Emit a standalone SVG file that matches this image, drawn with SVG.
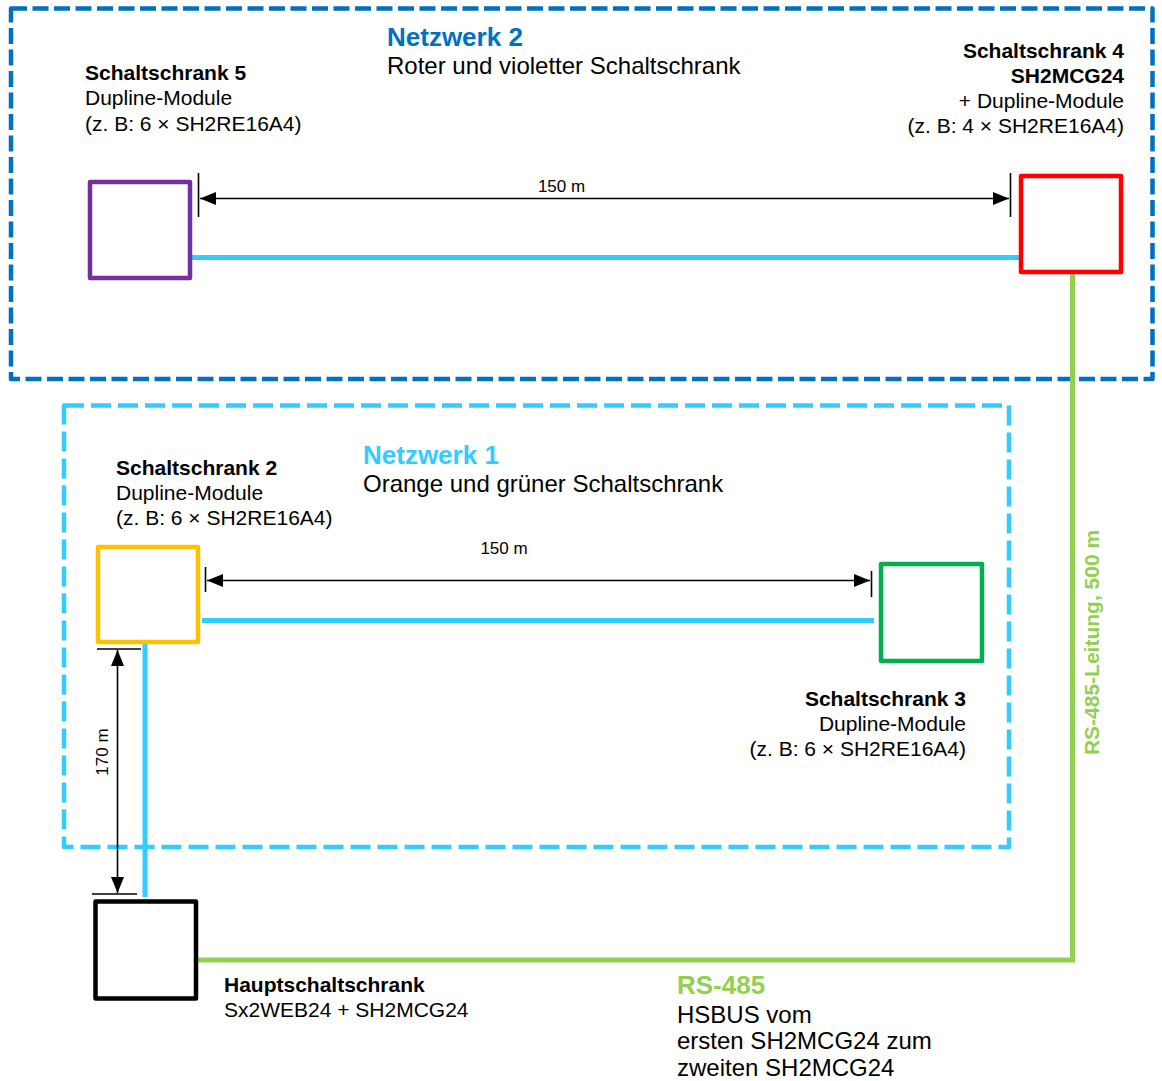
<svg xmlns="http://www.w3.org/2000/svg" width="1162" height="1081" viewBox="0 0 1162 1081">
<style>
text{font-family:"Liberation Sans",Arial,sans-serif;fill:#000}
.b{font-weight:bold}
.l{font-size:21px}
.m{font-size:24px}
.h{font-size:26px;font-weight:bold}
.d{font-size:17px}
.box{fill:#fff;stroke-width:4.5;stroke-linejoin:round}
.dim{stroke:#000;stroke-width:1.6;fill:none}
.tick{stroke:#000;stroke-width:1.6}
.cy{stroke:#33CCFF;stroke-width:5;fill:none}
.gr{stroke:#92D050;stroke-width:5;fill:none}
</style>
<defs>
<marker id="ah" markerUnits="userSpaceOnUse" markerWidth="16" markerHeight="13" refX="16" refY="6.5" orient="auto-start-reverse" viewBox="0 0 16 13">
<path d="M0,0 L16,6.5 L0,13 z" fill="#000"/>
</marker>
</defs>
<rect width="1162" height="1081" fill="#fff"/>

<g id="network2">
<rect x="11" y="8.5" width="1141.5" height="370.5" fill="none" stroke="#0070C0" stroke-width="4.5" stroke-dasharray="16 5.5" stroke-linejoin="round"/>
<text x="387" y="46" class="h" style="fill:#0070C0">Netzwerk 2</text>
<text x="387" y="74" class="m">Roter und violetter Schaltschrank</text>
</g>

<g id="network1">
<rect x="64" y="405.5" width="945" height="441.5" fill="none" stroke="#33CCFF" stroke-width="4.5" stroke-dasharray="20 7" stroke-linejoin="round"/>
<text x="363" y="464" class="h" style="fill:#33CCFF">Netzwerk 1</text>
<text x="363" y="492" class="m">Orange und grüner Schaltschrank</text>
</g>

<g id="connectors">
<line class="cy" x1="192" y1="257.5" x2="1021" y2="257.5"/>
<line class="cy" x1="202" y1="620.5" x2="874" y2="620.5"/>
<line class="cy" x1="145" y1="643" x2="145" y2="897"/>
<path class="gr" d="M1072.5,274 V960 H198"/>
<line class="dim" x1="200" y1="198.5" x2="1009" y2="198.5" marker-start="url(#ah)" marker-end="url(#ah)"/>
<line class="tick" x1="198.5" y1="173" x2="198.5" y2="217"/>
<line class="tick" x1="1010.5" y1="173" x2="1010.5" y2="217"/>
<text x="561.5" y="192" class="d" text-anchor="middle">150 m</text>
<line class="dim" x1="207" y1="580.5" x2="870" y2="580.5" marker-start="url(#ah)" marker-end="url(#ah)"/>
<line class="tick" x1="205.5" y1="567" x2="205.5" y2="592"/>
<line class="tick" x1="871.5" y1="571" x2="871.5" y2="597"/>
<text x="504" y="554" class="d" text-anchor="middle">150 m</text>
<line class="dim" x1="117.5" y1="650" x2="117.5" y2="893" marker-start="url(#ah)" marker-end="url(#ah)"/>
<line class="tick" x1="97" y1="649" x2="141" y2="649"/>
<line class="tick" x1="92" y1="894" x2="137" y2="894"/>
<text transform="translate(108,752) rotate(-90)" class="d" text-anchor="middle">170 m</text>
<text transform="translate(1099,642.5) rotate(-90)" class="l b" text-anchor="middle" style="fill:#92D050">RS-485-Leitung, 500 m</text>
<text x="677" y="994" class="h" style="fill:#92D050">RS-485</text>
<text class="m"><tspan x="677" y="1023">HSBUS vom</tspan><tspan x="677" y="1049">ersten SH2MCG24 zum</tspan><tspan x="677" y="1076">zweiten SH2MCG24</tspan></text>
</g>

<g id="schrank5">
<rect class="box" x="90" y="182" width="100" height="96" stroke="#7030A0"/>
<text class="l"><tspan x="85" y="79.5" class="b">Schaltschrank 5</tspan><tspan x="85" y="104.5">Dupline-Module</tspan><tspan x="85" y="130.5">(z. B: 6 × SH2RE16A4)</tspan></text>
</g>

<g id="schrank4">
<rect class="box" x="1021" y="176" width="100" height="96" stroke="#FF0000"/>
<text class="l" text-anchor="end"><tspan x="1124" y="57.5" class="b">Schaltschrank 4</tspan><tspan x="1124" y="82.5" class="b">SH2MCG24</tspan><tspan x="1124" y="107.5">+ Dupline-Module</tspan><tspan x="1124" y="132.5">(z. B: 4 × SH2RE16A4)</tspan></text>
</g>

<g id="schrank2">
<rect class="box" x="98" y="547" width="100" height="95" stroke="#FFC000"/>
<text class="l"><tspan x="116" y="475" class="b">Schaltschrank 2</tspan><tspan x="116" y="500">Dupline-Module</tspan><tspan x="116" y="525">(z. B: 6 × SH2RE16A4)</tspan></text>
</g>

<g id="schrank3">
<rect class="box" x="881" y="564" width="101" height="97" stroke="#00B050"/>
<text class="l" text-anchor="end"><tspan x="966" y="705.5" class="b">Schaltschrank 3</tspan><tspan x="966" y="730.5">Dupline-Module</tspan><tspan x="966" y="755.5">(z. B: 6 × SH2RE16A4)</tspan></text>
</g>

<g id="hauptschrank">
<rect class="box" x="95.5" y="901.5" width="100.5" height="97" stroke="#000"/>
<text class="l"><tspan x="224" y="992" class="b">Hauptschaltschrank</tspan><tspan x="224" y="1017">Sx2WEB24 + SH2MCG24</tspan></text>
</g>
</svg>
